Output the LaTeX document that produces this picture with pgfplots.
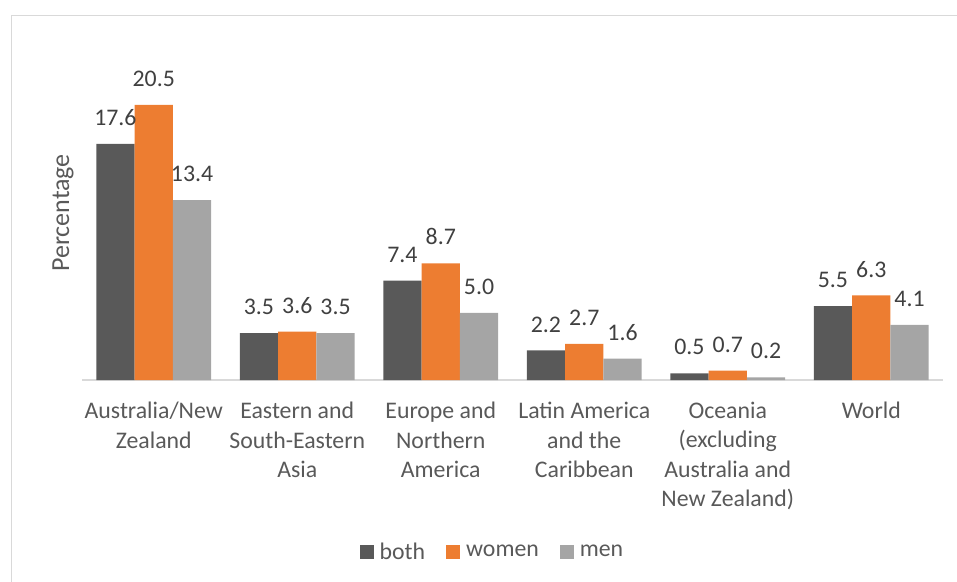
\documentclass[border=0pt]{standalone}
\usepackage{fontspec}
\setmainfont{Carlito}
\usepackage{pgfplots}
\pgfplotsset{compat=1.18}
\definecolor{cboth}{HTML}{595959}
\definecolor{cwomen}{HTML}{ED7D31}
\definecolor{cmen}{HTML}{A5A5A5}
\definecolor{cframe}{HTML}{D9D9D9}
\definecolor{ctext}{HTML}{595959}
\definecolor{clabel}{HTML}{404040}
\begin{document}
\fontsize{23.5}{29.3}\selectfont
\begin{tikzpicture}
\path[use as bounding box] (0pt,0pt) rectangle (957pt,-581pt);
\draw[cframe, line width=1.5pt] (11.5pt,-590pt) -- (11.5pt,-15.5pt) -- (970pt,-15.5pt);
\begin{axis}[
  at={(82pt,-380pt)}, anchor=south west,
  scale only axis, width=861pt, height=335.5pt,
  xmin=-0.5, xmax=5.5, ymin=0, ymax=25,
  ybar=0pt, bar width=38.3pt,
  axis x line*=bottom, axis y line=none,
  x axis line style={cframe, line width=1.5pt, -},
  xtick={0,1,2,3,4,5}, major tick length=0pt,
  xticklabels={{Australia/New\\Zealand},{Eastern and\\South-Eastern\\Asia},{Europe and\\Northern\\America},{Latin America\\and the\\Caribbean},{Oceania\\(excluding\\Australia and\\New Zealand)},{World}},
  xticklabel style={align=center, text=ctext, font=\fontsize{23.8}{29.4}\selectfont, inner sep=0pt, yshift=-22pt, anchor=north},
  nodes near coords,
  /pgf/number format/assume math mode=true,
  /pgf/number format/.cd, fixed, fixed zerofill, precision=1, /pgfplots/.cd,
  nodes near coords style={anchor=south, inner sep=0pt, yshift=18pt, text=clabel, font=\fontsize{23.8}{29.3}\selectfont},
  legend columns=3,
  legend style={at={(0.479,-0.515)}, anchor=center, draw=none, fill=none,
    font=\fontsize{23.8}{29.3}\selectfont, text=ctext,
    /tikz/every even column/.append style={column sep=15pt},
    nodes={inner xsep=6pt}},
  legend image code/.code={\fill[#1,draw=none] (0pt,-6pt) rectangle (14pt,8pt);},
]
\addplot[fill=cboth, draw=none] coordinates {(0,17.6) (1,3.5) (2,7.4) (3,2.2) (4,0.5) (5,5.5)};
\addplot[fill=cwomen, draw=none] coordinates {(0,20.5) (1,3.6) (2,8.7) (3,2.7) (4,0.7) (5,6.3)};
\addplot[fill=cmen, draw=none] coordinates {(0,13.4) (1,3.5) (2,5.0) (3,1.6) (4,0.2) (5,4.1)};
\legend{both, women, men}
\end{axis}
\node[rotate=90, text=ctext, font=\fontsize{26}{30}\selectfont] at (63pt,-213pt) {Percentage};
\end{tikzpicture}
\end{document}
